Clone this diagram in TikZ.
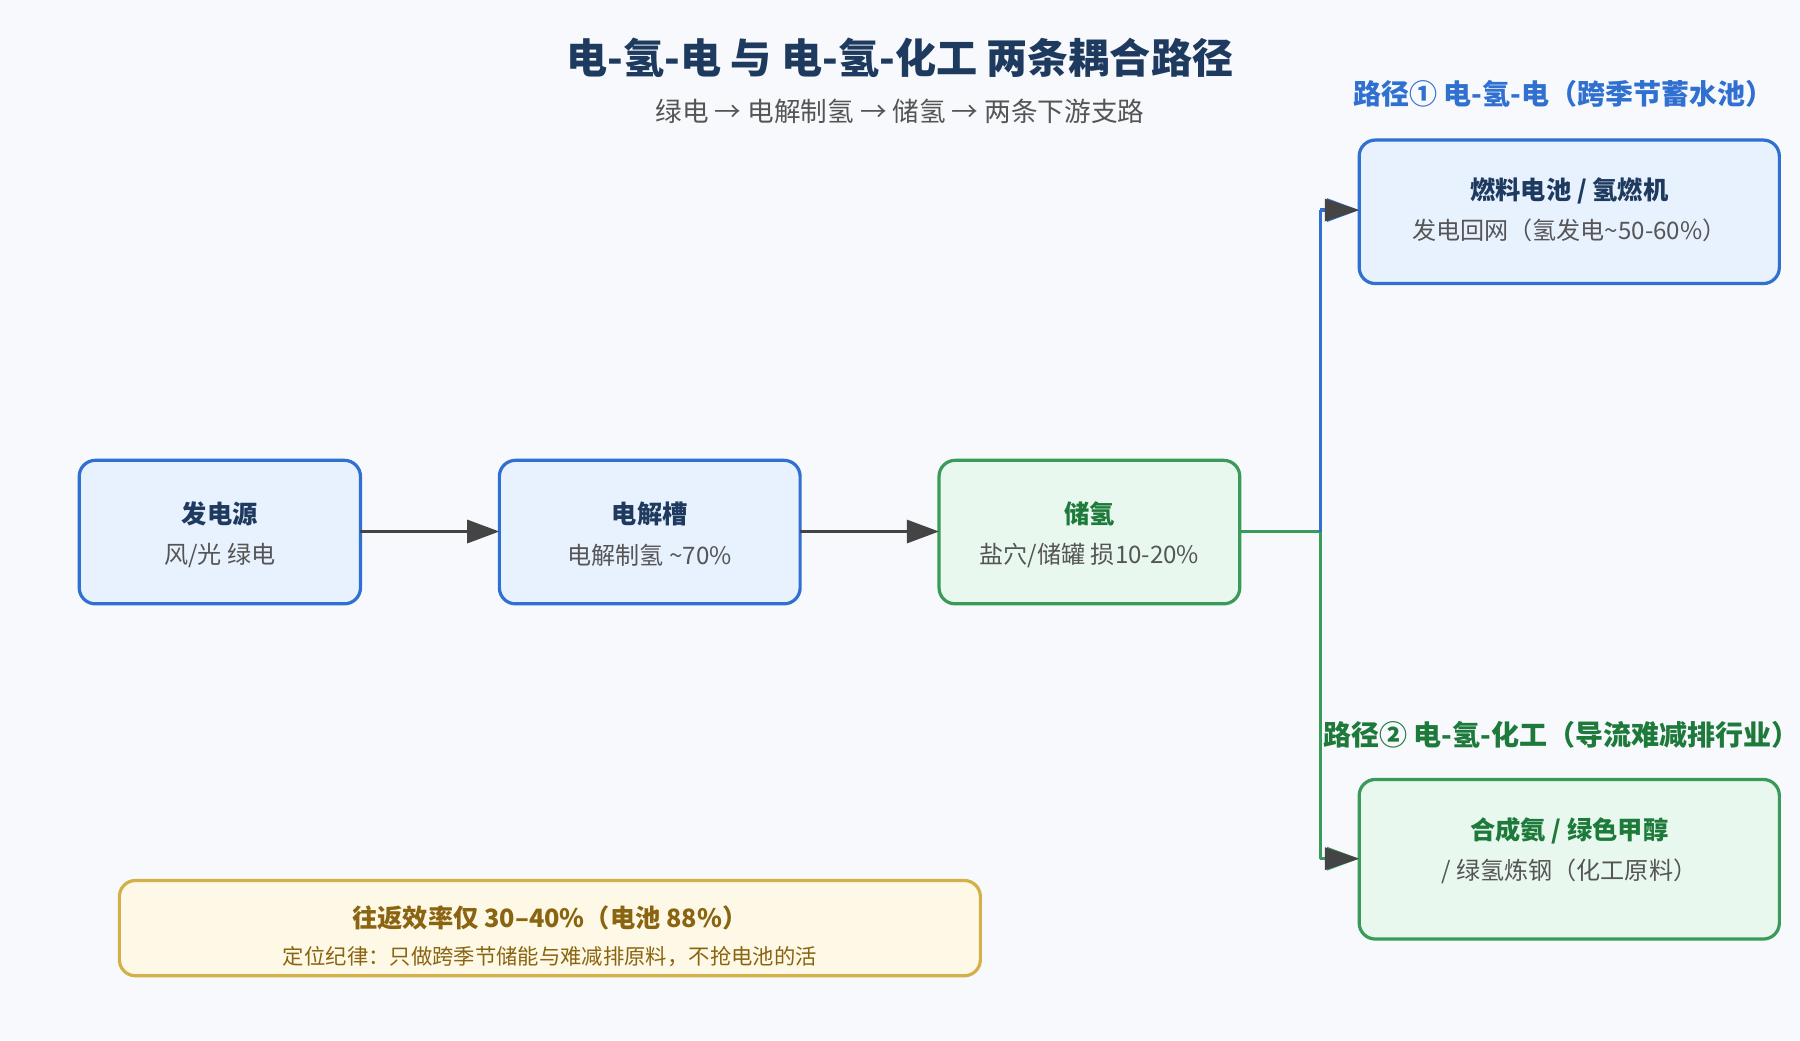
\documentclass[tikz,border=0pt]{standalone}
\usepackage{fontspec}
\setmainfont{Noto Sans CJK SC}
\usetikzlibrary{arrows.meta}
\definecolor{bg}{HTML}{F7F9FD}
\definecolor{navy}{HTML}{1E3A5F}
\definecolor{bluel}{HTML}{3070D0}
\definecolor{bluef}{HTML}{E8F1FE}
\definecolor{greenl}{HTML}{3A9A5A}
\definecolor{greenf}{HTML}{E8F8EE}
\definecolor{greent}{HTML}{1E7A3A}
\definecolor{goldl}{HTML}{D4B04A}
\definecolor{goldf}{HTML}{FEF9E6}
\definecolor{goldt}{HTML}{8A6410}
\definecolor{grey}{HTML}{555555}
\definecolor{arr}{HTML}{444444}
\begin{document}
\begin{tikzpicture}[x=0.5pt,y=-0.5pt,
 box/.style={draw=bluel,fill=bluef,line width=1.4pt,rounded corners=7pt},
 gbox/.style={draw=greenl,fill=greenf,line width=1.4pt,rounded corners=7pt},
 ttl/.style={font=\bfseries\fontsize{11}{13}\selectfont,text=navy},
 gttl/.style={font=\bfseries\fontsize{11}{13}\selectfont,text=greent},
 sub/.style={font=\fontsize{10.5}{13}\selectfont,text=grey},
 ar/.style={-{Triangle[length=14pt,width=10pt]},arr,line width=1.4pt}]
\fill[bg] (0,0) rectangle (1568,906);
\useasboundingbox (0,0) rectangle (1568,906);
\node[font=\bfseries\fontsize{17.9}{21}\selectfont,text=navy] (title) at (784,50) {电-氢-电 与 电-氢-化工 两条耦合路径};
\node[font=\fontsize{11.6}{14}\selectfont,text=grey] (subt) at (784,97) {绿电 → 电解制氢 → 储氢 → 两条下游支路};
% boxes
\draw[box] (69,401) rectangle (314,526);
\node[ttl] (a) at (191.5,448) {发电源};
\node[sub] at (191.5,484) {风/光 绿电};
\coordinate (aR) at (314,463);
\draw[box] (435,401) rectangle (697,526);
\node[ttl] (b) at (566,448) {电解槽};
\node[sub] at (566,484) {电解制氢 \textasciitilde70\%};
\coordinate (bL) at (435,463); \coordinate (bR) at (697,463);
\draw[gbox] (818,401) rectangle (1080,526);
\node[gttl] (c) at (949,448) {储氢};
\node[sub] at (949,484) {盐穴/储罐 损10-20\%};
\coordinate (cL) at (818,463); \coordinate (cR) at (1080,463);
\draw[box] (1184,122) rectangle (1550,247);
\node[ttl] (d) at (1367,166) {燃料电池 / 氢燃机};
\node[sub] at (1367,201) {发电回网（氢发电\textasciitilde50-60\%）};
\draw[gbox] (1184,679) rectangle (1550,818);
\node[gttl] (e) at (1367,724) {合成氨 / 绿色甲醇};
\node[sub] at (1367,759) {/ 绿氢炼钢（化工原料）};
\draw[draw=goldl,fill=goldf,line width=1.4pt,rounded corners=7pt] (104,767) rectangle (854,850);
\node[font=\bfseries\fontsize{11}{13}\selectfont,text=goldt] (n) at (479,800) {往返效率仅 30–40\%（电池 88\%）};
\node[font=\fontsize{9.3}{11}\selectfont,text=goldt] at (479,833) {定位纪律：只做跨季节储能与难减排原料，不抢电池的活};
\node[font=\bfseries\fontsize{12.2}{14}\selectfont,text=bluel] (p1) at (1362,82) {路径① 电-氢-电（跨季节蓄水池）};
\node[font=\bfseries\fontsize{12.2}{14}\selectfont,text=greent] (p2) at (1360,640) {路径② 电-氢-化工（导流难减排行业）};
% connectors
\draw[ar] (aR) -- (bL);
\draw[ar] (bR) -- (cL);
\coordinate (j) at (1150,463);
\coordinate (jt) at (1150,183);
\coordinate (jb) at (1150,748);
\coordinate (dL) at (1184,183);
\coordinate (eL) at (1184,748);
\draw[greenl,line width=1.4pt] (cR) -- (j) -- (jb);
\draw[bluel,line width=1.4pt] (j) -- (jt);
\draw[ar,bluel] (jt) -- (dL);
\draw[ar,greenl] (jb) -- (eL);
\fill[arr] (1184,183) -- ++(-30,-10) -- ++(0,20) -- cycle;
\fill[arr] (1184,748) -- ++(-30,-10) -- ++(0,20) -- cycle;
\end{tikzpicture}
\end{document}
